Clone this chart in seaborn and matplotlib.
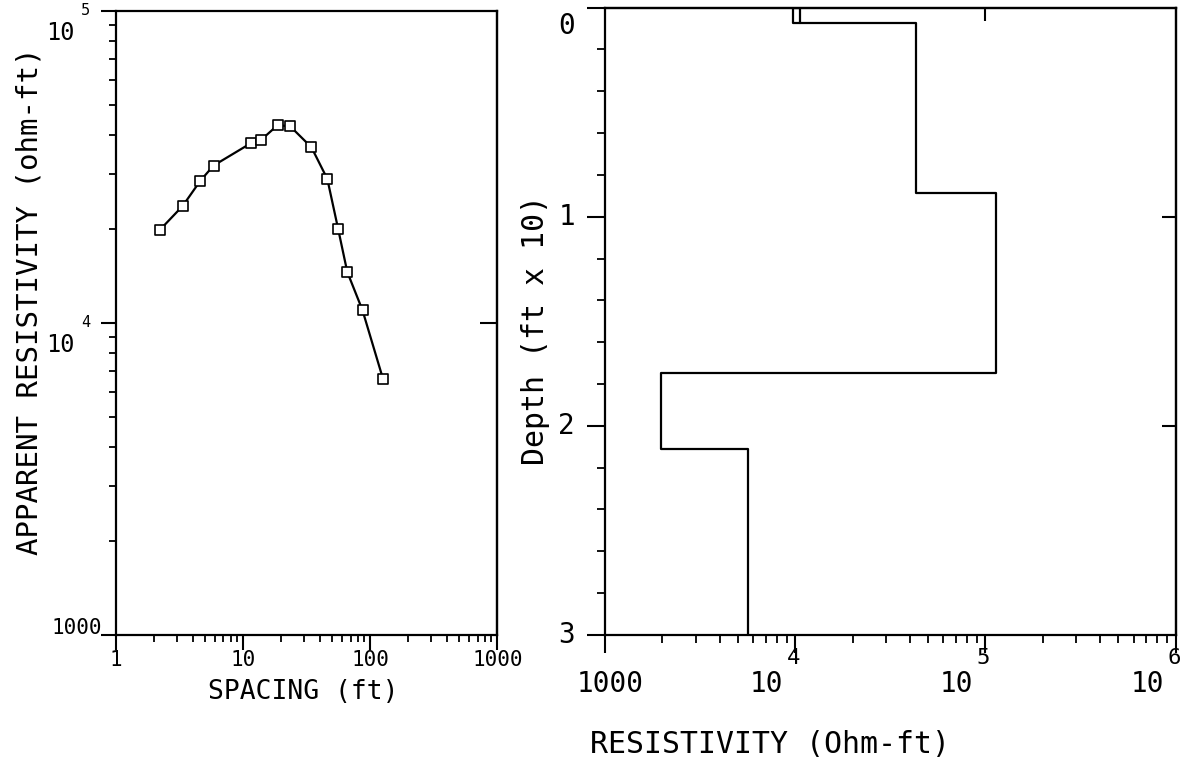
import matplotlib
matplotlib.use("Agg")
import matplotlib.pyplot as plt
import seaborn as sns
from matplotlib.ticker import LogLocator, MultipleLocator, NullFormatter, NullLocator
from matplotlib.transforms import offset_copy

# sounding curve: electrode spacing (ft) vs apparent resistivity (ohm-ft)
spacing_ft = [2.2, 3.35, 4.6, 5.85, 11.6, 13.9, 18.7, 23.5, 34.5, 46, 56, 66, 87, 126]
apparent_res = [19800, 23700, 28500, 31900, 37700, 38600, 43000, 42600,
                36500, 28900, 19950, 14560, 10970, 6620]

# layered model: resistivity of each layer and depth of each boundary (ft x 10)
layer_res = [9700, 43000, 113000, 1960, 5650]
first_layer_edge = 10600
layer_bottoms = [0.072, 0.885, 1.746, 2.11]
max_depth = 3.0

left_xticks = [1, 10, 100, 1000]
left_xlabels = ["1", "10", "100", "1000"]
left_yticks = [1000, 1e4, 1e5]
left_yexp = ["", "4", "5"]
right_xticks = [1000, 1e4, 1e5, 1e6]
right_xexp = ["", "4", "5", "6"]
depth_ticks = [0, 1, 2, 3]

sns.set_theme(style="ticks")
plt.rcParams["font.family"] = ["DejaVu Sans Mono", "DejaVu Sans"]
plt.rcParams["axes.linewidth"] = 1.6
plt.rcParams["text.color"] = "black"
plt.rcParams["axes.labelcolor"] = "black"

fig = plt.figure(figsize=(11.84, 7.65), dpi=100)
ax1 = fig.add_axes([0.098, 0.170, 0.322, 0.816])
ax2 = fig.add_axes([0.511, 0.170, 0.482, 0.820])


def shifted(trans, dx, dy):
    return offset_copy(trans, fig=fig, x=dx, y=dy, units="dots")


def power_label(ax, val, exp, along_x, size, exp_size, body_off, exp_off, plain_off,
                plain_size):
    """Write a '10' with a raised exponent (or a plain number) at a tick."""
    base = ax.get_xaxis_transform() if along_x else ax.get_yaxis_transform()
    xy = (val, 0) if along_x else (0, val)
    if exp == "":
        ax.text(*xy, f"{int(val)}", transform=shifted(base, *plain_off),
                ha="center" if along_x else "right", va="center",
                fontsize=plain_size)
        return
    ax.text(*xy, "10", transform=shifted(base, *body_off), ha="right",
            va="center", fontsize=size)
    ax.text(*xy, exp, transform=shifted(base, *exp_off),
            ha="center" if along_x else "right", va="center", fontsize=exp_size)


# --- left panel: sounding data
sns.lineplot(x=spacing_ft, y=apparent_res, ax=ax1, color="black",
             linewidth=1.6, sort=False, estimator=None)
sns.scatterplot(x=spacing_ft, y=apparent_res, ax=ax1, marker="s", s=45,
                facecolor="white", edgecolor="black", linewidth=1.2, zorder=3)
ax1.set_xscale("log")
ax1.set_yscale("log")
ax1.set_xlim(1, 1000)
ax1.set_ylim(1000, 1e5)
ax1.set_xticks(left_xticks, labels=left_xlabels)
ax1.set_yticks(left_yticks)
for axis in (ax1.xaxis, ax1.yaxis):
    axis.set_minor_locator(LogLocator(base=10, subs=range(2, 10)))
    axis.set_minor_formatter(NullFormatter())
ax1.tick_params(which="major", direction="out", length=11, width=1.5,
                labelsize=15, color="black", labelcolor="black", pad=0)
ax1.tick_params(which="minor", direction="out", length=5, width=1.3, color="black")
ax1.tick_params(axis="y", labelleft=False)
for val, exp in zip(left_yticks, left_yexp):
    power_label(ax1, val, exp, False, 17, 11, (-41, -22), (-26, 0), (-14, 7), 15)
ax1.set_xlabel("SPACING (ft)", fontsize=19, va="center")
ax1.xaxis.set_label_coords(0.49, -0.092)
ax1.set_ylabel("APPARENT RESISTIVITY (ohm-ft)", fontsize=21, va="center")
ax1.yaxis.set_label_coords(-0.226, 0.534)

sec1 = ax1.secondary_yaxis("right")
sec1.set_yticks([1e4], labels=[""])
sec1.yaxis.set_minor_locator(NullLocator())
sec1.tick_params(direction="in", length=12, width=1.5, color="black")

# --- right panel: layered model
prof_x = [first_layer_edge, first_layer_edge]
prof_y = [layer_bottoms[0], 0]
tops = [0] + layer_bottoms
bots = layer_bottoms + [max_depth]
for r, t, b in zip(layer_res, tops, bots):
    prof_x += [r, r]
    prof_y += [t, b]

sns.lineplot(x=prof_x, y=prof_y, ax=ax2, color="black", linewidth=1.6,
             sort=False, estimator=None)
ax2.set_xscale("log")
ax2.set_xlim(1000, 1e6)
ax2.set_ylim(max_depth, 0)
ax2.set_xticks(right_xticks)
ax2.xaxis.set_minor_locator(LogLocator(base=10, subs=range(2, 10)))
ax2.xaxis.set_minor_formatter(NullFormatter())
ax2.set_yticks(depth_ticks)
ax2.yaxis.set_minor_locator(MultipleLocator(0.2))
ax2.tick_params(which="major", direction="out", length=13, width=1.5, color="black")
ax2.tick_params(which="minor", direction="out", length=6, width=1.3, color="black")
ax2.tick_params(labelbottom=False, labelleft=False)
for val, exp in zip(right_xticks, right_xexp):
    power_label(ax2, val, exp, True, 20, 16, (-12, -49), (-2, -23), (5, -49), 20)

ybase = ax2.get_yaxis_transform()
for d in depth_ticks:
    dy = -18 if d == 0 else 0
    ax2.text(0, d, str(d), transform=shifted(ybase, -30, dy), ha="right",
             va="center", fontsize=20)

ax2.set_xlabel("RESISTIVITY (Ohm-ft)", fontsize=21.5, va="center")
ax2.xaxis.set_label_coords(0.289, -0.175)
ax2.set_ylabel("Depth (ft x 10)", fontsize=21.5, va="center")
ax2.yaxis.set_label_coords(-0.1226, 0.486)

sec2 = ax2.secondary_yaxis("right")
sec2.set_yticks([1, 2], labels=["", ""])
sec2.yaxis.set_minor_locator(NullLocator())
sec2.tick_params(direction="in", length=10, width=1.5, color="black")
sec3 = ax2.secondary_xaxis("top")
sec3.set_xticks([1e5], labels=[""])
sec3.xaxis.set_minor_locator(NullLocator())
sec3.tick_params(direction="in", length=9, width=1.5, color="black")

for ax in (ax1, ax2):
    for sp in ax.spines.values():
        sp.set_color("black")

fig.savefig("out.png", dpi=100)
